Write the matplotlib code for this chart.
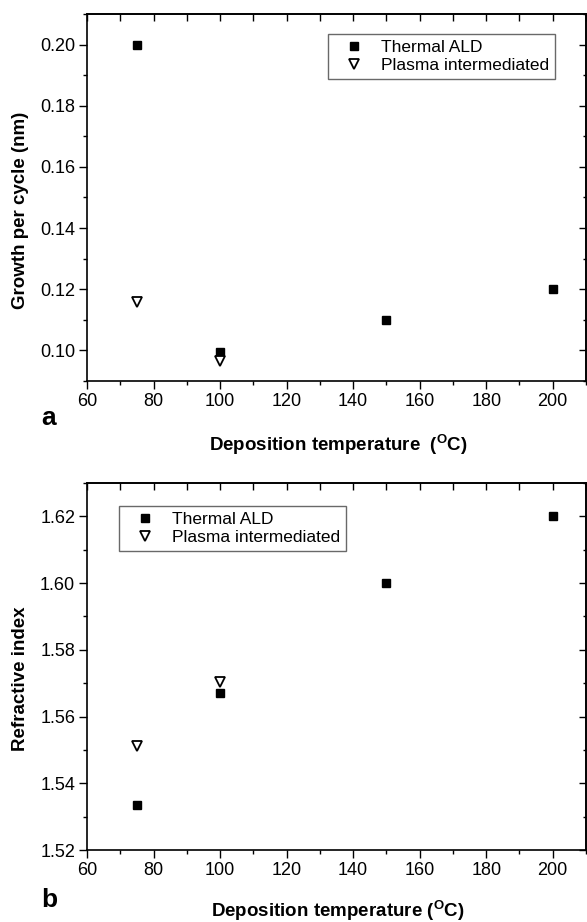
import matplotlib
matplotlib.use('Agg')
import matplotlib.pyplot as plt
from matplotlib.ticker import MultipleLocator, NullFormatter, FormatStrFormatter

plt.rcParams['font.family'] = ['Liberation Sans', 'DejaVu Sans']
plt.rcParams['mathtext.default'] = 'regular'

# ---- data ----
temps_thermal = [75, 100, 150, 200]
temps_plasma = [75, 100]
gpc_thermal = [0.200, 0.0995, 0.110, 0.120]
gpc_plasma = [0.1158, 0.0964]
ri_thermal = [1.5335, 1.5672, 1.600, 1.620]
ri_plasma = [1.5512, 1.5705]
label_thermal = 'Thermal ALD'
label_plasma = 'Plasma intermediated'
xlabel = 'Deposition temperature  ($^{O}$C)'
xlabel_b = 'Deposition temperature ($^{O}$C)'
ylabel_a = 'Growth per cycle (nm)'
ylabel_b = 'Refractive index'

W, H = 587, 922
fig = plt.figure(figsize=(W / 100, H / 100), dpi=100)

def px_axes(l, r, t, b):
    return [l / W, 1 - b / H, (r - l) / W, (b - t) / H]

ax_a = fig.add_axes(px_axes(87, 586, 14, 381))
ax_b = fig.add_axes(px_axes(87, 586, 483, 850))

def style(ax, ylim, ymaj, ymin, fmt):
    ax.set_xlim(60, 210)
    ax.set_ylim(*ylim)
    ax.xaxis.set_major_locator(MultipleLocator(20))
    ax.xaxis.set_minor_locator(MultipleLocator(10))
    ax.yaxis.set_major_locator(MultipleLocator(ymaj))
    ax.yaxis.set_minor_locator(MultipleLocator(ymin))
    ax.yaxis.set_major_formatter(FormatStrFormatter(fmt))
    for s in ax.spines.values():
        s.set_linewidth(1.2)
    ax.tick_params(which='both', direction='out', labelsize=13, width=1.0,
                   top=False, right=False)
    ax.tick_params(which='major', length=6, pad=2.5)
    ax.tick_params(which='minor', length=3)
    secx = ax.secondary_xaxis('top')
    secx.xaxis.set_major_locator(MultipleLocator(20))
    secx.xaxis.set_minor_locator(MultipleLocator(10))
    secx.xaxis.set_major_formatter(NullFormatter())
    secx.tick_params(which='both', direction='in', width=1.0)
    secx.tick_params(which='major', length=5)
    secx.tick_params(which='minor', length=5)
    secx.spines['top'].set_linewidth(1.2)
    secy = ax.secondary_yaxis('right')
    secy.yaxis.set_major_locator(MultipleLocator(ymaj))
    secy.yaxis.set_minor_locator(MultipleLocator(ymin))
    secy.yaxis.set_major_formatter(NullFormatter())
    secy.tick_params(which='both', direction='in', width=1.0)
    secy.tick_params(which='major', length=5)
    secy.tick_params(which='minor', length=2.5)
    secy.spines['right'].set_linewidth(1.2)

def plot_panel(ax, yt, yp, legend_anchor, xl, yl, xl_y):
    ax.plot(temps_thermal, yt, linestyle='none', marker='s', markersize=6,
            color='black', label=label_thermal, zorder=3)
    ax.plot(temps_plasma, yp, linestyle='none', marker='v', markersize=7,
            markerfacecolor='white', markeredgecolor='black',
            markeredgewidth=1.3, label=label_plasma, zorder=4)
    leg = ax.legend(loc='upper left', bbox_to_anchor=legend_anchor,
                    borderaxespad=0, fontsize=12.5, frameon=True, fancybox=False,
                    numpoints=1, handlelength=2.3, handletextpad=0.4,
                    labelspacing=0.15, borderpad=0.35)
    leg.get_frame().set_edgecolor('#444444')
    leg.get_frame().set_linewidth(1.0)
    ax.set_xlabel(xl, fontsize=13.5, fontweight='bold')
    ax.set_ylabel(yl, fontsize=13.5, fontweight='bold')
    ax.xaxis.set_label_coords(0.503, xl_y)
    ax.yaxis.set_label_coords(-0.116, 0.466)

style(ax_a, (0.09, 0.21), 0.02, 0.01, '%.2f')
style(ax_b, (1.52, 1.63), 0.02, 0.01, '%.2f')
plot_panel(ax_a, gpc_thermal, gpc_plasma, (0.483, 0.946), xlabel, ylabel_a, -0.142)
plot_panel(ax_b, ri_thermal, ri_plasma, (0.064, 0.937), xlabel_b, ylabel_b, -0.133)

fig.text(41 / W, 1 - 425 / H, 'a', fontsize=19, fontweight='bold', ha='left', va='baseline')
fig.text(41 / W, 1 - 907 / H, 'b', fontsize=19, fontweight='bold', ha='left', va='baseline')

fig.savefig('out.png', dpi=100)
